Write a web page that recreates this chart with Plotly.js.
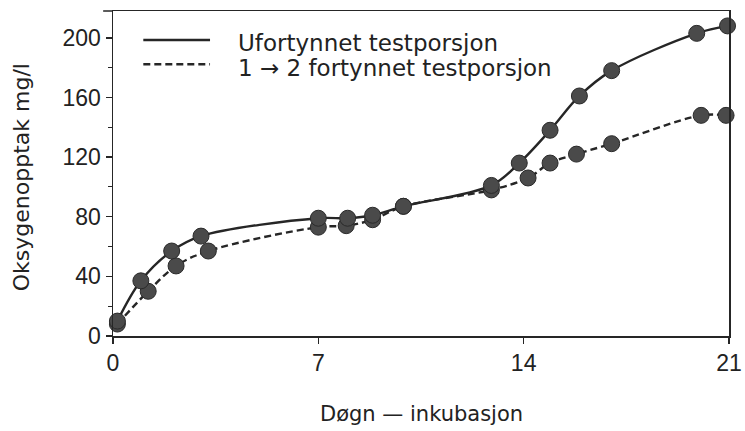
<!DOCTYPE html>
<html>
<head>
<meta charset="utf-8">
<script src="https://cdn.plot.ly/plotly-3.0.1.min.js"></script>
<style>html,body{margin:0;padding:0;background:#fff}#chart{width:745px;height:431px}</style>
</head>
<body>
<div id="chart"></div>
<script>
// Data
const seriesNames = ["Ufortynnet testporsjon", "1 \u2192 2 fortynnet testporsjon"];
const undilutedDays = [0.15, 0.95, 2.0, 3.0, 7.0, 8.0, 8.85, 9.9, 12.9, 13.85, 14.9, 15.9, 17.0, 19.9, 20.95];
const undilutedO2   = [10, 37, 57, 67, 79, 79, 81, 87, 101, 116, 138, 161, 178, 203, 208];
const dilutedDays   = [0.15, 1.2, 2.15, 3.25, 7.0, 7.95, 8.85, 9.9, 12.9, 14.15, 14.9, 15.8, 17.0, 20.05, 20.9];
const dilutedO2     = [8, 30, 47, 57, 73, 74, 78, 87, 98, 106, 116, 122, 129, 148, 148];
const xTicks = [0, 7, 14, 21];
const yTicks = [0, 40, 80, 120, 160, 200];
const xTitle = "D\u00f8gn \u2014 inkubasjon";
const yTitle = "Oksygenopptak mg/l";

const ink = "#262626";
const markerStyle = {size: 16, color: "#4a4a4a", line: {color: "#2a2a2a", width: 1}};

const traces = [
  {x: dilutedDays, y: dilutedO2, name: seriesNames[1], mode: "lines+markers",
   line: {color: ink, width: 2.4, dash: "7px,4px", shape: "spline", smoothing: 1},
   marker: markerStyle, cliponaxis: false, showlegend: false},
  {x: undilutedDays, y: undilutedO2, name: seriesNames[0], mode: "lines+markers",
   line: {color: ink, width: 2.4, shape: "spline", smoothing: 1},
   marker: markerStyle, cliponaxis: false, showlegend: false}
];

const tickFont = {family: "Liberation Sans, Arial, sans-serif", size: 23, color: "#222"};
const textFont = {family: "DejaVu Sans, sans-serif", size: 23, color: "#222"};
const xTitleFont = {family: "DejaVu Sans, sans-serif", size: 21, color: "#222"};
const yTitleFont = {family: "DejaVu Sans, sans-serif", size: 22, color: "#222"};

const layout = {
  width: 745, height: 431,
  margin: {l: 113, r: 16, t: 11, b: 95},
  paper_bgcolor: "#fff", plot_bgcolor: "#fff",
  font: tickFont,
  showlegend: false,
  xaxis: {
    range: [0, 21], tickvals: xTicks, ticktext: xTicks.map(String),
    showgrid: false, zeroline: false, showline: true, mirror: true,
    linecolor: ink, linewidth: 1.5, ticks: "outside", ticklen: 6, tickwidth: 1.5, tickcolor: ink,
    tickfont: tickFont
  },
  yaxis: {
    range: [0, 218], tickvals: yTicks, ticktext: yTicks.map(String),
    showgrid: false, zeroline: false, showline: true, mirror: true,
    linecolor: ink, linewidth: 1.5, ticks: "outside", ticklen: 6, tickwidth: 1.5, tickcolor: ink,
    tickfont: tickFont,
    minor: {dtick: 20, tick0: 20, ticks: "outside", ticklen: 4, tickwidth: 1, tickcolor: ink, showgrid: false}
  },
  shapes: [
    {type: "line", xref: "paper", yref: "paper", x0: -0.016, x1: 0, y0: 1, y1: 1,
     line: {color: ink, width: 1.5}},
    {type: "line", xref: "paper", yref: "paper", x0: 0.0492, x1: 0.1575, y0: 0.9108, y1: 0.9108,
     line: {color: ink, width: 2.4}},
    {type: "line", xref: "paper", yref: "paper", x0: 0.0492, x1: 0.1575, y0: 0.836, y1: 0.836,
     line: {color: ink, width: 2.4, dash: "7px,4px"}}
  ],
  annotations: [
    {xref: "paper", yref: "paper", x: 0.1997, y: 0.9015, xanchor: "left", yanchor: "middle",
     text: seriesNames[0], showarrow: false, font: textFont},
    {xref: "paper", yref: "paper", x: 0.1997, y: 0.826, xanchor: "left", yanchor: "middle",
     text: seriesNames[1], showarrow: false, font: textFont},
    {xref: "paper", yref: "paper", x: 0.5, y: -0.24, xanchor: "center", yanchor: "middle",
     text: xTitle, showarrow: false, font: xTitleFont},
    {xref: "paper", yref: "paper", x: -0.148, y: 0.488, xanchor: "center", yanchor: "middle",
     text: yTitle, textangle: -90, showarrow: false, font: yTitleFont}
  ]
};

Plotly.newPlot("chart", traces, layout, {staticPlot: true, displayModeBar: false});
</script>
</body>
</html>
